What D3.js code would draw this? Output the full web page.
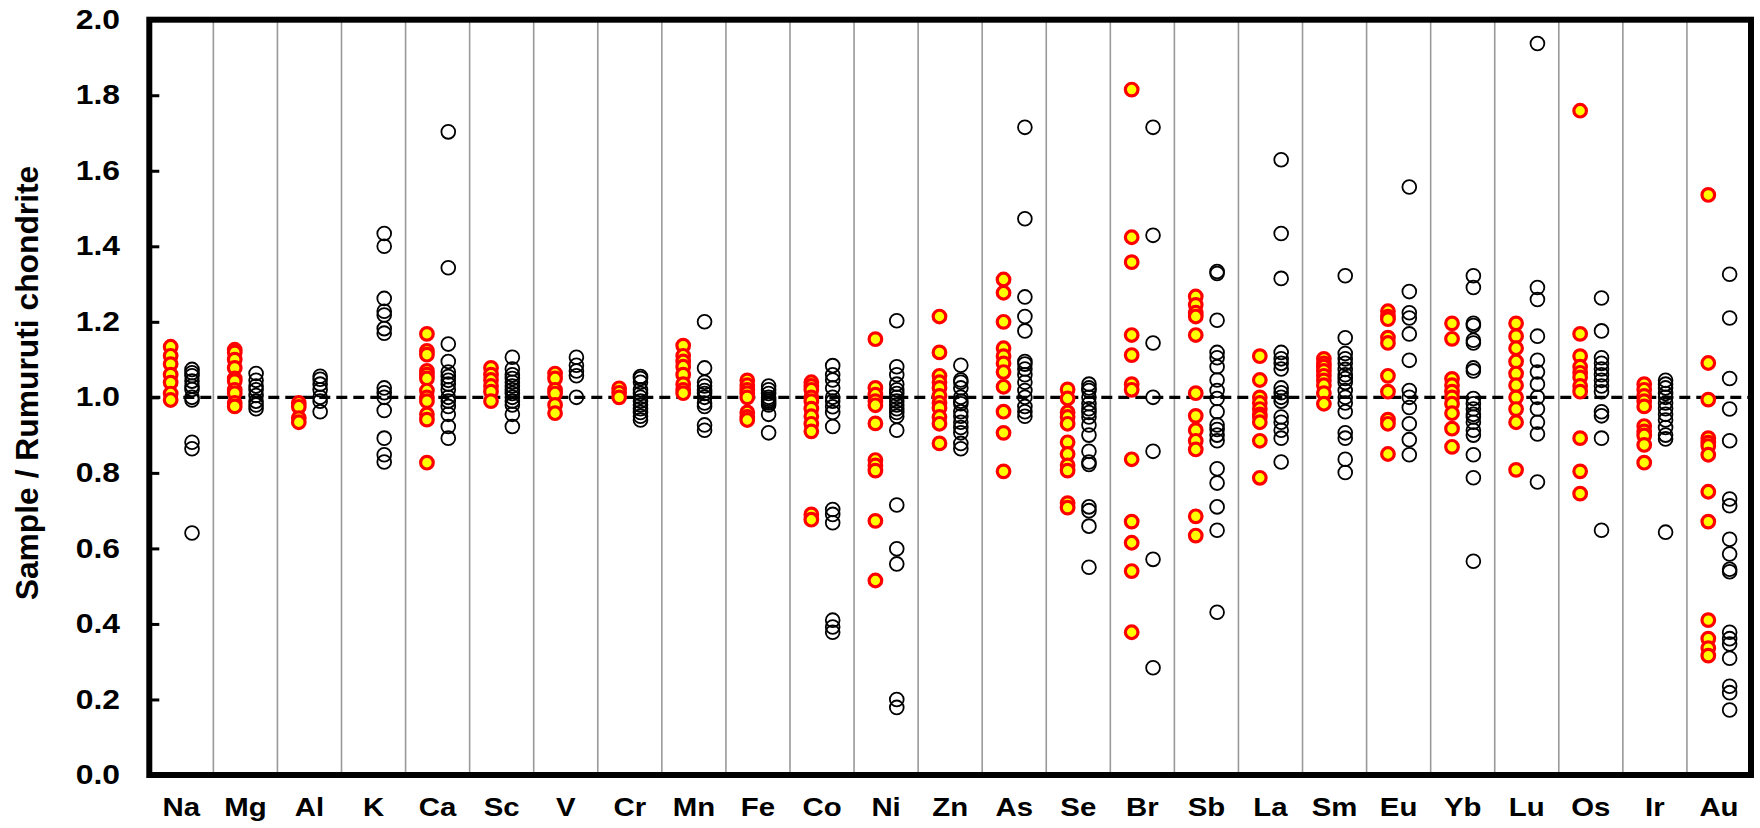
<!DOCTYPE html>
<html>
<head>
<meta charset="utf-8">
<script src="https://cdn.jsdelivr.net/npm/d3@7"></script>
<style>
  html, body { margin: 0; padding: 0; background: #fff; }
  svg { display: block; }
  text { font-family: "Liberation Sans", Arial, sans-serif; font-weight: bold; fill: #000; }
</style>
</head>
<body>
<svg id="chart" width="1760" height="828"></svg>
<script>
const categories = ["Na","Mg","Al","K","Ca","Sc","V","Cr","Mn","Fe","Co","Ni","Zn","As","Se","Br","Sb","La","Sm","Eu","Yb","Lu","Os","Ir","Au"];

const yTicks = [0, 0.2, 0.4, 0.6, 0.8, 1.0, 1.2, 1.4, 1.6, 1.8, 2.0];
const referenceLevel = 1.0;
const yLabel = "Sample / Rumuruti chondrite";

// red/yellow series (left column in each element)
const redSeries = [
  [1.134, 1.11, 1.088, 1.06, 1.039, 1.01, 0.993],
  [1.126, 1.119, 1.10, 1.078, 1.05, 1.043, 1.02, 1.011, 0.985, 0.976],
  [0.985, 0.975, 0.945, 0.934],
  [],
  [1.168, 1.123, 1.113, 1.07, 1.06, 1.05, 1.018, 1.0, 0.99, 0.955, 0.941, 0.827],
  [1.078, 1.06, 1.046, 1.03, 1.015, 0.99],
  [1.063, 1.05, 1.02, 1.01, 0.98, 0.958],
  [1.024, 1.012, 1.0],
  [1.137, 1.11, 1.095, 1.081, 1.06, 1.035, 1.02, 1.011],
  [1.045, 1.032, 1.02, 1.011, 1.0, 0.96, 0.948, 0.94],
  [1.04, 1.03, 1.02, 1.0, 0.99, 0.97, 0.95, 0.93, 0.91, 0.69, 0.676],
  [1.154, 1.025, 1.007, 0.99, 0.979, 0.931, 0.834, 0.82, 0.806, 0.673, 0.515],
  [1.214, 1.119, 1.057, 1.04, 1.025, 1.004, 0.985, 0.972, 0.948, 0.93, 0.878],
  [1.312, 1.277, 1.2, 1.13, 1.109, 1.09, 1.067, 1.028, 0.962, 0.906, 0.804],
  [1.021, 0.997, 0.96, 0.948, 0.93, 0.881, 0.85, 0.82, 0.806, 0.72, 0.708],
  [1.815, 1.424, 1.358, 1.165, 1.112, 1.035, 1.02, 0.836, 0.671, 0.615, 0.54, 0.378],
  [1.267, 1.245, 1.224, 1.214, 1.165, 1.011, 0.951, 0.913, 0.885, 0.862, 0.685, 0.634],
  [1.109, 1.046, 1.0, 0.985, 0.969, 0.955, 0.948, 0.934, 0.885, 0.787],
  [1.102, 1.09, 1.081, 1.07, 1.057, 1.045, 1.032, 1.011, 0.983],
  [1.228, 1.214, 1.207, 1.158, 1.144, 1.057, 1.015, 0.941, 0.93, 0.85],
  [1.196, 1.155, 1.049, 1.032, 1.015, 1.0, 0.983, 0.958, 0.917, 0.869],
  [1.196, 1.162, 1.13, 1.095, 1.063, 1.032, 1.0, 0.969, 0.934, 0.808],
  [1.759, 1.168, 1.109, 1.081, 1.065, 1.053, 1.03, 1.015, 0.892, 0.804, 0.745],
  [1.035, 1.02, 1.004, 0.99, 0.976, 0.924, 0.91, 0.899, 0.874, 0.827],
  [1.536, 1.091, 0.994, 0.892, 0.88, 0.871, 0.848, 0.75, 0.671, 0.41, 0.361, 0.336, 0.316]
];

// open black series (right column in each element)
const blackSeries = [
  [1.074, 1.065, 1.057, 1.043, 1.03, 1.021, 1.0, 0.993, 0.881, 0.864, 0.641],
  [1.063, 1.045, 1.03, 1.02, 1.005, 0.99, 0.98, 0.97],
  [1.056, 1.048, 1.035, 1.02, 1.0, 0.99, 0.962],
  [1.434, 1.400, 1.262, 1.228, 1.218, 1.182, 1.170, 1.025, 1.012, 1.0, 0.965, 0.892, 0.848, 0.829],
  [1.703, 1.343, 1.141, 1.095, 1.067, 1.055, 1.045, 1.035, 1.02, 1.0, 0.99, 0.976, 0.955, 0.923, 0.892],
  [1.106, 1.075, 1.06, 1.05, 1.04, 1.03, 1.02, 1.01, 1.0, 0.99, 0.98, 0.955, 0.923],
  [1.106, 1.085, 1.07, 1.057, 1.0],
  [1.055, 1.05, 1.04, 1.02, 1.01, 1.0, 0.99, 0.98, 0.97, 0.96, 0.95, 0.94],
  [1.2, 1.078, 1.04, 1.03, 1.018, 1.01, 1.0, 0.985, 0.976, 0.927, 0.913],
  [1.03, 1.02, 1.01, 1.0, 0.995, 0.99, 0.985, 0.98, 0.955, 0.906],
  [1.084, 1.06, 1.046, 1.025, 1.0, 0.99, 0.975, 0.96, 0.923, 0.703, 0.69, 0.668, 0.41, 0.392, 0.378],
  [1.203, 1.081, 1.06, 1.035, 1.02, 1.01, 1.0, 0.99, 0.98, 0.97, 0.96, 0.95, 0.913, 0.715, 0.599, 0.559, 0.2, 0.179],
  [1.085, 1.046, 1.04, 1.025, 1.0, 0.99, 0.983, 0.962, 0.95, 0.934, 0.92, 0.906, 0.878, 0.864],
  [1.715, 1.473, 1.266, 1.214, 1.176, 1.095, 1.088, 1.075, 1.06, 1.04, 1.018, 1.0, 0.976, 0.962, 0.95],
  [1.035, 1.025, 1.018, 1.0, 0.983, 0.97, 0.96, 0.948, 0.927, 0.9, 0.857, 0.829, 0.822, 0.71, 0.70, 0.659, 0.55],
  [1.715, 1.429, 1.144, 1.0, 0.857, 0.571, 0.284],
  [1.333, 1.328, 1.204, 1.119, 1.105, 1.081, 1.046, 1.018, 0.997, 0.962, 0.927, 0.915, 0.9, 0.885, 0.811, 0.773, 0.71, 0.648, 0.431],
  [1.629, 1.434, 1.315, 1.119, 1.102, 1.09, 1.075, 1.025, 1.012, 1.0, 0.99, 0.948, 0.934, 0.913, 0.892, 0.829],
  [1.322, 1.158, 1.116, 1.102, 1.09, 1.074, 1.06, 1.05, 1.039, 1.018, 1.0, 0.985, 0.962, 0.906, 0.892, 0.836, 0.801],
  [1.557, 1.28, 1.224, 1.21, 1.168, 1.098, 1.018, 1.0, 0.973, 0.93, 0.888, 0.848],
  [1.322, 1.291, 1.196, 1.19, 1.151, 1.144, 1.078, 1.07, 0.997, 0.983, 0.969, 0.955, 0.948, 0.934, 0.913, 0.9, 0.848, 0.787, 0.566],
  [1.937, 1.291, 1.259, 1.162, 1.098, 1.067, 1.035, 1.0, 0.969, 0.934, 0.903, 0.776],
  [1.263, 1.176, 1.105, 1.09, 1.075, 1.06, 1.045, 1.03, 1.015, 0.962, 0.951, 0.892, 0.648],
  [1.045, 1.035, 1.025, 1.01, 1.0, 0.985, 0.97, 0.955, 0.94, 0.92, 0.9, 0.89, 0.643],
  [1.326, 1.21, 1.05, 0.969, 0.885, 0.731, 0.713, 0.624, 0.585, 0.545, 0.538, 0.378, 0.361, 0.347, 0.309, 0.235, 0.218, 0.172]
];

const svg = d3.select("#chart");
const L = 149.3, R = 1751, T = 19.7, B = 775;

const x = d3.scaleBand().domain(categories).range([L, R]).padding(0);
const y = d3.scaleLinear().domain([0, 2]).range([B, T]);
const bw = x.bandwidth();

// vertical separators
svg.append("g").selectAll("line")
  .data(categories.slice(1))
  .join("line")
  .attr("x1", d => x(d)).attr("x2", d => x(d))
  .attr("y1", T).attr("y2", B)
  .attr("stroke", "#999").attr("stroke-width", 1.6);

// dashed reference line
svg.append("line")
  .attr("x1", L).attr("x2", R)
  .attr("y1", y(referenceLevel)).attr("y2", y(referenceLevel))
  .attr("stroke", "#000").attr("stroke-width", 3.2)
  .attr("stroke-dasharray", "11,6");

// black open circles
const blackPts = [];
blackSeries.forEach((arr, i) => arr.forEach(v => blackPts.push({c: categories[i], v})));
svg.append("g").selectAll("circle")
  .data(blackPts)
  .join("circle")
  .attr("cx", d => x(d.c) + bw * 2 / 3)
  .attr("cy", d => y(d.v))
  .attr("r", 6.9)
  .attr("fill", "none")
  .attr("stroke", "#000")
  .attr("stroke-width", 1.8);

// red/yellow circles
const redPts = [];
redSeries.forEach((arr, i) => arr.forEach(v => redPts.push({c: categories[i], v})));
svg.append("g").selectAll("circle")
  .data(redPts)
  .join("circle")
  .attr("cx", d => x(d.c) + bw / 3)
  .attr("cy", d => y(d.v))
  .attr("r", 6.3)
  .attr("fill", "#ffff00")
  .attr("stroke", "#ff0000")
  .attr("stroke-width", 3.2);

// y axis
const yAxis = svg.append("g")
  .attr("transform", `translate(${L},0)`)
  .call(d3.axisLeft(y).tickValues(yTicks).tickFormat(d3.format(".1f")).tickSize(-10).tickPadding(0));
yAxis.select(".domain").remove();
yAxis.selectAll(".tick line").attr("stroke", "#000").attr("stroke-width", 3);
const tScale = 1.18;
yAxis.selectAll(".tick text")
  .attr("x", -29.3 / tScale)
  .attr("transform", `scale(${tScale},1)`)
  .style("font-size", "27px")
  .style("font-family", "'Liberation Sans', Arial, sans-serif")
  .style("font-weight", "bold");

// x axis labels
const xAxis = svg.append("g")
  .attr("transform", `translate(0,${B})`)
  .call(d3.axisBottom(x).tickSize(0).tickPadding(23));
xAxis.select(".domain").remove();
const xScaleF = 1.13;
xAxis.selectAll(".tick text")
  .attr("transform", `scale(${xScaleF},1)`)
  .style("font-size", "26px")
  .style("font-family", "'Liberation Sans', Arial, sans-serif")
  .style("font-weight", "bold");

// plot frame
svg.append("rect")
  .attr("x", L).attr("y", T)
  .attr("width", R - L).attr("height", B - T)
  .attr("fill", "none")
  .attr("stroke", "#000")
  .attr("stroke-width", 6);

// y label
svg.append("text")
  .attr("transform", `translate(38,383) rotate(-90)`)
  .attr("text-anchor", "middle")
  .style("font-size", "31.8px")
  .text(yLabel);
</script>
</body>
</html>
